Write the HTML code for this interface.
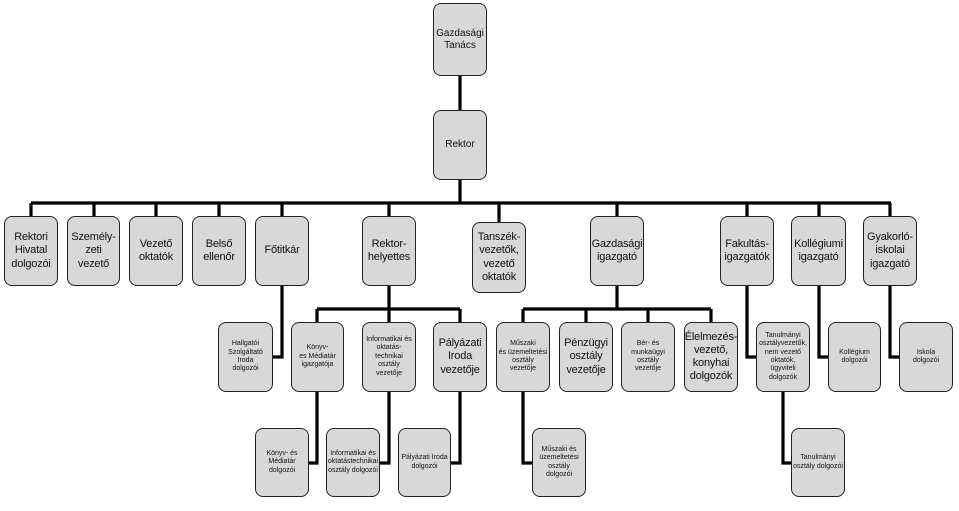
<!DOCTYPE html>
<html><head><meta charset="utf-8"><style>
body{margin:0;width:959px;height:511px;background:#fff;position:relative;overflow:hidden;font-family:"Liberation Sans",Arial,sans-serif}
.b{position:absolute;box-sizing:border-box;background:#d8d8d8;border:1.6px solid #222;border-radius:8px;display:flex;align-items:center;justify-content:center;text-align:center;color:#111;line-height:1.2;white-space:nowrap}
.l{font-size:11px;letter-spacing:-0.2px}.s{font-size:7px}.m{font-size:10px}
svg{position:absolute;left:0;top:0}
</style></head><body>
<svg width="959" height="511"><g stroke="#000" stroke-width="3.2" fill="none">
<path d="M460 76V203M31 203H891"/>
<path d="M31 203V216M94 203V216M156 203V216M219 203V216M282 203V216M389 203V216M499 203V222M617 203V216M747 203V216M819 203V216M890 203V216"/>
<path d="M282 286V357H273"/>
<path d="M389 286V309M317 309H460M317 309V322M389 309V322M460 309V322"/>
<path d="M617 286V309M523 309H711M523 309V322M586 309V322M648 309V322M711 309V322"/>
<path d="M317 392V463H309M389 392V463H380M460 392V463H451M523 392V463H532"/>
<path d="M747 286V357H756M819 286V357H828M890 286V357H899M783 392V463H791"/>
</g></svg>
<div class="b m" style="left:433px;top:3px;width:54px;height:73px">Gazdasági<br>Tanács</div>
<div class="b m" style="left:433px;top:110px;width:54px;height:70px">Rektor</div>

<div class="b l" style="left:4px;top:216px;width:54px;height:70px">Rektori<br>Hivatal<br>dolgozói</div>
<div class="b l" style="left:67px;top:216px;width:53px;height:70px">Személy-<br>zeti<br>vezető</div>
<div class="b l" style="left:129px;top:216px;width:54px;height:70px">Vezető<br>oktatók</div>
<div class="b l" style="left:192px;top:216px;width:54px;height:70px">Belső<br>ellenőr</div>
<div class="b l" style="left:255px;top:216px;width:54px;height:70px">Főtitkár</div>
<div class="b l" style="left:362px;top:216px;width:54px;height:70px">Rektor-<br>helyettes</div>
<div class="b l" style="left:472px;top:222px;width:54px;height:71px">Tanszék-<br>vezetők,<br>vezető<br>oktatók</div>
<div class="b l" style="left:590px;top:216px;width:54px;height:70px">Gazdasági<br>igazgató</div>
<div class="b l" style="left:720px;top:216px;width:54px;height:70px">Fakultás-<br>igazgatók</div>
<div class="b l" style="left:791px;top:216px;width:55px;height:70px">Kollégiumi<br>igazgató</div>
<div class="b l" style="left:863px;top:216px;width:54px;height:70px">Gyakorló-<br>iskolai<br>igazgató</div>

<div class="b s" style="left:218px;top:322px;width:55px;height:70px">Hallgatói<br>Szolgáltató<br>Iroda<br>dolgozói</div>
<div class="b s" style="left:291px;top:322px;width:53px;height:70px">Könyv-<br>es Médiatár<br>igazgatója</div>
<div class="b s" style="left:362px;top:322px;width:54px;height:70px">Informatikai és<br>oktatás-<br>technikai<br>osztály<br>vezetője</div>
<div class="b l" style="left:433px;top:322px;width:54px;height:70px">Pályázati<br>Iroda<br>vezetője</div>
<div class="b s" style="left:496px;top:322px;width:54px;height:70px">Műszaki<br>és üzemeltetési<br>osztály<br>vezetője</div>
<div class="b l" style="left:559px;top:322px;width:54px;height:70px">Pénzügyi<br>osztály<br>vezetője</div>
<div class="b s" style="left:621px;top:322px;width:54px;height:70px">Bér- és<br>munkaügyi<br>osztály<br>vezetője</div>
<div class="b l" style="left:684px;top:322px;width:54px;height:70px">Élelmezés-<br>vezető,<br>konyhai<br>dolgozók</div>
<div class="b s" style="left:756px;top:322px;width:54px;height:70px">Tanulmányi<br>osztályvezetők,<br>nem vezető<br>oktatók,<br>ügyviteli<br>dolgozók</div>
<div class="b s" style="left:828px;top:322px;width:53px;height:70px">Kollégium<br>dolgozói</div>
<div class="b s" style="left:899px;top:322px;width:54px;height:70px">Iskola<br>dolgozói</div>

<div class="b s" style="left:255px;top:428px;width:54px;height:69px">Könyv- és<br>Médiatár<br>dolgozói</div>
<div class="b s" style="left:326px;top:428px;width:54px;height:69px">Informatikai és<br>oktatástechnikai<br>osztály dolgozói</div>
<div class="b s" style="left:398px;top:428px;width:53px;height:69px">Pályázati Iroda<br>dolgozói</div>
<div class="b s" style="left:532px;top:428px;width:54px;height:69px">Műszaki és<br>üzemeltetési<br>osztály<br>dolgozói</div>
<div class="b s" style="left:791px;top:428px;width:54px;height:69px">Tanulmányi<br>osztály dolgozói</div>
</body></html>
